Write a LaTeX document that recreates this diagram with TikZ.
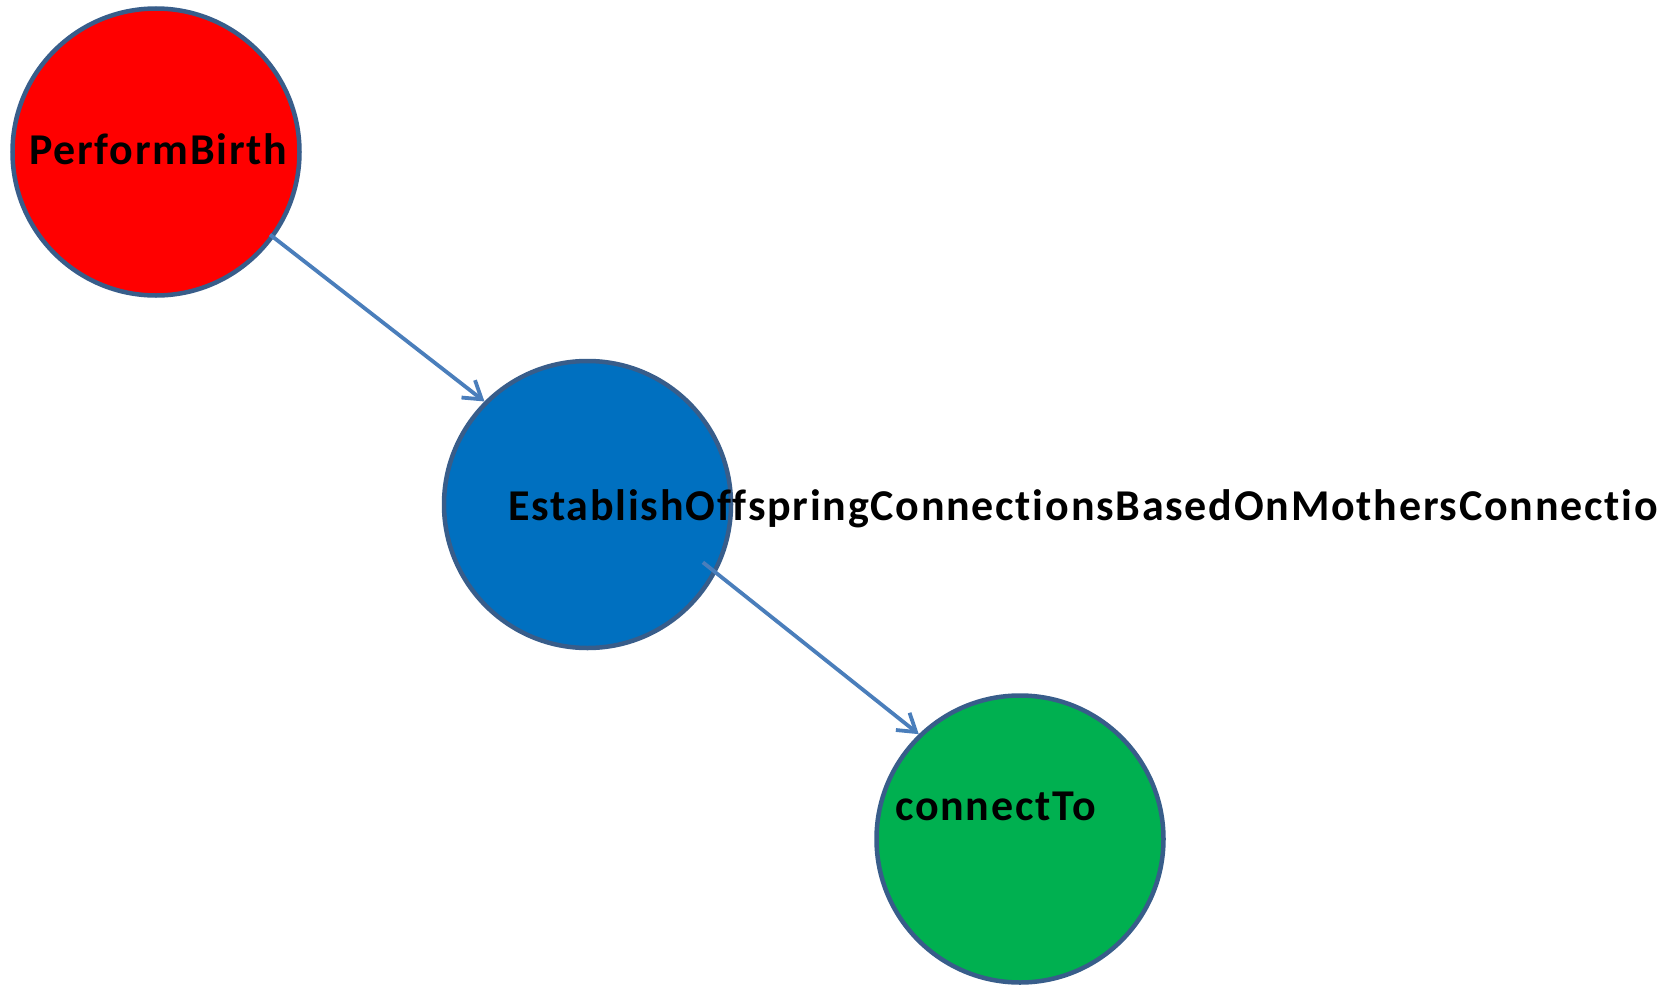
\documentclass[tikz,border=0pt]{standalone}
\usepackage{fontspec}
\setmainfont{Carlito}[Ligatures=NoCommon, LetterSpace=4]
\usetikzlibrary{arrows.meta, positioning}
\definecolor{ndred}{RGB}{255,0,0}
\definecolor{ndblue}{RGB}{0,112,192}
\definecolor{ndgreen}{RGB}{0,176,80}
\definecolor{ndedge}{RGB}{56,93,138}
\definecolor{arrblue}{RGB}{74,126,187}
\begin{document}
\begin{tikzpicture}[
  x=1pt, y=1pt,
  nd/.style={circle,draw=ndedge,line width=4.5pt,minimum size=287pt,inner sep=0pt},
  arr/.style={-{Straight Barb[length=17pt,width=22pt]},line width=3.8pt,color=arrblue},
  lb/.style={anchor=base west,inner sep=0pt,font=\fontsize{44}{52}\selectfont\bfseries}
]
\clip (0,0) rectangle (1660,-985);

\node[nd,fill=ndred]   (birth)     at (156,-152)    {};
\node[nd,fill=ndblue]  (offspring) at (587.5,-504.5) {};
\node[nd,fill=ndgreen] (connect)   at (1020,-839)   {};

\node[lb] (tbirth)     at ([shift={(-127,-12)}]birth.center)       {PerformBirth};
\node[lb] (toffspring) at ([shift={(-79.5,-15.5)}]offspring.center)
  {EstablishOffspringConnectionsBasedOnMothersConnections};
\node[lb] (tconnect)   at ([shift={(-125,19)}]connect.center)      {connectTo};

% PerformBirth -> Establish...
\draw[arr,shorten <=-5pt] (birth.-36) -- (offspring.135);

% Establish... -> connectTo
\draw[arr,shorten <=-17pt] (offspring.-28) -- (connect.134);

\end{tikzpicture}
\end{document}
